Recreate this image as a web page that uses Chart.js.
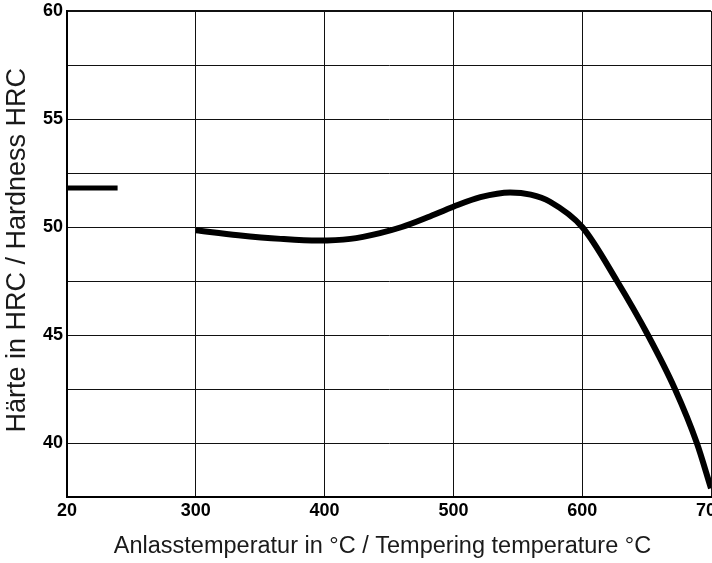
<!DOCTYPE html>
<html>
<head>
<meta charset="utf-8">
<script src="https://cdn.jsdelivr.net/npm/chart.js@4/dist/chart.umd.min.js"></script>
<style>
  html, body { margin: 0; padding: 0; background: #fff; }
  #wrap { width: 712px; height: 563px; position: relative; }
</style>
</head>
<body>
<div id="wrap"><canvas id="c" width="712" height="563"></canvas></div>
<script>
// ---- data ----
const xTickValues = [20, 300, 400, 500, 600, 700];
const yTickValues = [40, 45, 50, 55, 60];
// hardness as hardened (20 °C), short bar
const temps20 = [20, 130];
const hardness20 = [51.8, 51.8];
// tempering curve
const temps = [300, 333, 366, 395, 420, 443, 460, 480, 500, 521, 544, 560, 575, 600, 627, 651, 672, 689, 700];
const hardness = [49.85, 49.62, 49.45, 49.37, 49.45, 49.72, 50.0, 50.45, 50.94, 51.38, 51.6, 51.5, 51.17, 50.0, 47.5, 45.0, 42.5, 40.0, 37.9];

// x axis: range 20..300 compressed into one grid cell (like the original print)
function toAxis(t) { return t < 300 ? 200 + (t - 20) * 100 / 280 : t; }
function fromAxis(v) { return v < 300 ? 20 + (v - 200) * 280 / 100 : v; }

const pts = (xs, ys) => xs.map((x, i) => ({ x: toAxis(x), y: ys[i] }));

const tickFont = { family: "'Liberation Sans', Arial, sans-serif", size: 18, weight: 'bold' };
const xTitleFont = { family: "'Liberation Sans', Arial, sans-serif", size: 23.5, weight: 'normal' };
const yTitleFont = { family: "'Liberation Sans', Arial, sans-serif", size: 27, weight: 'normal' };

new Chart(document.getElementById('c'), {
  type: 'line',
  data: {
    datasets: [
      {
        data: pts(temps20, hardness20),
        borderColor: '#000', borderWidth: 5, pointRadius: 0, borderCapStyle: 'butt', tension: 0
      },
      {
        data: pts(temps, hardness),
        borderColor: '#000', borderWidth: 6, pointRadius: 0, cubicInterpolationMode: 'monotone',
        borderCapStyle: 'butt'
      }
    ]
  },
  options: {
    responsive: false,
    animation: false,
    events: [],
    layout: { padding: { top: 11, right: 1, left: 0, bottom: 0 } },
    plugins: { legend: { display: false }, tooltip: { enabled: false } },
    scales: {
      x: {
        type: 'linear', min: 200, max: 700,
        afterBuildTicks: s => { s.ticks = xTickValues.map(t => ({ value: toAxis(t) })); },
        afterFit: s => { s.height = 66; s.paddingLeft = 0; s.paddingRight = 0; },
        ticks: {
          autoSkip: false, maxRotation: 0, padding: 3, color: '#000', font: tickFont,
          callback: v => String(Math.round(fromAxis(v)))
        },
        grid: { color: '#111', lineWidth: 1, drawTicks: false },
        border: { color: '#000', width: 2 },
        title: {
          display: true, text: 'Anlasstemperatur in °C / Tempering temperature °C\u00A0\u00A0',
          color: '#1a1a1a', font: xTitleFont, padding: { top: 0, bottom: 2 }
        }
      },
      y: {
        type: 'linear', min: 37.5, max: 60,
        afterBuildTicks: s => {
          const all = [];
          for (let v = 37.5; v <= 60.001; v += 2.5) all.push({ value: v });
          s.ticks = all;
        },
        afterFit: s => { s.width = 67; s.paddingTop = 0; s.paddingBottom = 0; },
        ticks: {
          autoSkip: false, padding: 4, color: '#000', font: tickFont,
          callback: v => (yTickValues.includes(v) ? String(v) : '')
        },
        grid: {
          color: '#111', drawTicks: false,
          lineWidth: ctx => (ctx.tick && ctx.tick.value === 60 ? 2 : 1)
        },
        border: { color: '#000', width: 2 },
        title: {
          display: true, text: '\u00A0Härte in HRC / Hardness HRC',
          color: '#1a1a1a', font: yTitleFont, padding: { top: 1, bottom: 0 }
        }
      }
    }
  }
});
</script>
</body>
</html>
